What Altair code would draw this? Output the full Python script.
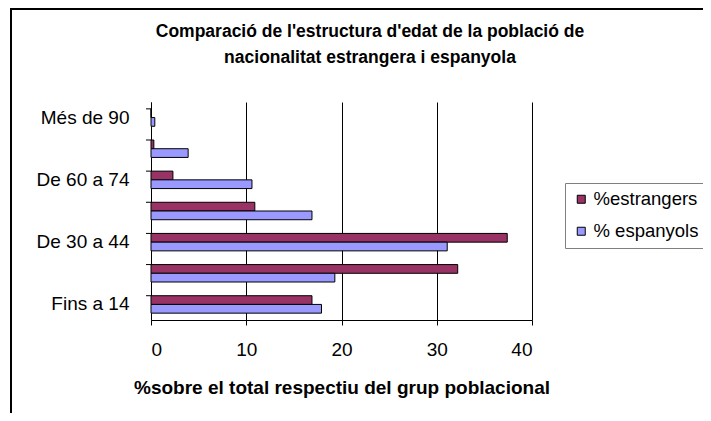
import altair as alt
import pandas as pd

groups = ["Fins a 14", "De 15 a 29", "De 30 a 44", "De 45 a 59", "De 60 a 74", "De 75 a 89", "Més de 90"]
estrangers = [16.9, 32.2, 37.4, 10.9, 2.3, 0.3, 0.0]
espanyols = [17.9, 19.3, 31.1, 16.9, 10.6, 3.9, 0.4]
series = ["%estrangers", "% espanyols"]
colors = ["#993366", "#9999FF"]
shown_labels = ["Fins a 14", "De 30 a 44", "De 60 a 74", "Més de 90"]
x_ticks = [0, 10, 20, 30, 40]
title_lines = ["Comparació de l'estructura d'edat de la població de",
               "nacionalitat estrangera i espanyola"]

rows = []
for g, a, b in zip(groups, estrangers, espanyols):
    rows.append({"grup": g, "serie": series[0], "valor": a})
    rows.append({"grup": g, "serie": series[1], "valor": b})
df = pd.DataFrame(rows)

order_top = list(reversed(groups))
FONT = "Liberation Sans"
W, H = 381, 218

yscale = alt.Scale(domain=order_top, paddingInner=0.44, paddingOuter=0.22)

bars = alt.Chart(df).mark_bar(stroke="black", strokeWidth=1).encode(
    x=alt.X("valor:Q", scale=alt.Scale(domain=[0, 40], nice=False),
            axis=alt.Axis(values=x_ticks, grid=True, gridColor="black", gridOpacity=1,
                          domainColor="black", tickColor="black", tickSize=5,
                          labelFontSize=19, labelFont=FONT, labelColor="black", labelPadding=15,
                          title="%sobre el total respectiu del grup poblacional",
                          titleFont=FONT, titleFontSize=19, titleFontWeight="bold",
                          titleColor="black", titlePadding=19)),
    y=alt.Y("grup:N", scale=yscale, sort=order_top,
            axis=alt.Axis(values=shown_labels, ticks=False, domainColor="black",
                          labelFontSize=19, labelFont=FONT, labelColor="black",
                          labelPadding=22, title=None)),
    yOffset=alt.YOffset("serie:N", sort=series, scale=alt.Scale(domain=series)),
    color=alt.Color("serie:N", scale=alt.Scale(domain=series, range=colors),
                    legend=alt.Legend(title=None, orient="none", legendX=414, legendY=81,
                                      symbolType="square", symbolSize=64,
                                      symbolStrokeColor="black", symbolStrokeWidth=1,
                                      labelFont=FONT, labelFontSize=18.5, labelColor="black",
                                      strokeColor="#808080", fillColor="white",
                                      padding=7, rowPadding=13, labelOffset=3)),
)

tick_df = pd.DataFrame({"grup": groups})
yticks = alt.Chart(tick_df).mark_rule(color="black").encode(
    y=alt.Y("grup:N", scale=yscale, sort=order_top, bandPosition=0),
    x=alt.value(-5), x2=alt.value(0),
)

border_left = alt.Chart(tick_df).mark_rule(color="black", strokeWidth=2).encode(
    x=alt.value(-140), y=alt.value(-93), y2=alt.value(320))
border_top = alt.Chart(tick_df).mark_rule(color="black", strokeWidth=2).encode(
    x=alt.value(-141), x2=alt.value(560), y=alt.value(-93))

title_df = pd.DataFrame({"t": title_lines, "i": [0, 1]})
title1 = alt.Chart(title_df.iloc[[0]]).mark_text(
    font=FONT, fontSize=17.5, fontWeight="bold", color="black", align="center", baseline="middle"
).encode(text="t:N", x=alt.value(219), y=alt.value(-70))
title2 = alt.Chart(title_df.iloc[[1]]).mark_text(
    font=FONT, fontSize=17.5, fontWeight="bold", color="black", align="center", baseline="middle"
).encode(text="t:N", x=alt.value(219), y=alt.value(-44))

chart = alt.layer(bars, yticks, border_left, border_top, title1, title2).properties(
    width=W, height=H,
    padding={"left": 143, "top": 94, "right": 171, "bottom": 93},
    autosize=alt.AutoSizeParams(type="none"),
).configure_view(stroke=None).configure_axis(domainWidth=1)

chart.save("out.html", embed_options={"renderer": "svg", "actions": False})
